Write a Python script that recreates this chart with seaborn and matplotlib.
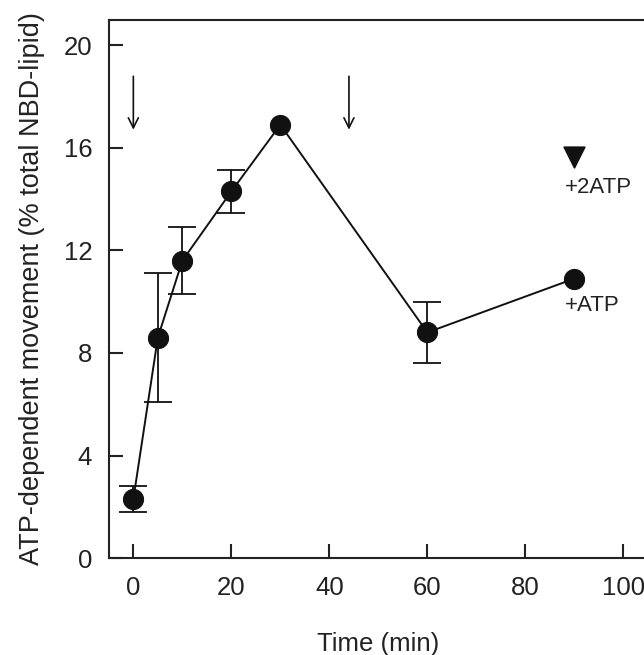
import numpy as np
import pandas as pd
import matplotlib
matplotlib.use("Agg")
import matplotlib.pyplot as plt
import seaborn as sns

# values
time_min = [0, 5, 10, 20, 30, 60, 90]
movement = [2.3, 8.6, 11.6, 14.3, 16.9, 8.8, 10.9]
err_time = [0, 5, 10, 20, 60]
err_mean = [2.3, 8.6, 11.6, 14.3, 8.8]
err_sd = [0.5, 2.5, 1.3, 0.85, 1.2]
atp2_time = [90]
atp2_value = [15.65]
arrow_times = [0, 44]

sns.set_theme(style="ticks")
plt.rcParams['font.family'] = ['Liberation Sans', 'DejaVu Sans']

fig = plt.figure(figsize=(6.44, 6.55), dpi=100)
ax = fig.add_axes([0.169, 0.148, 0.837, 0.822])

df = pd.DataFrame({"time": time_min, "movement": movement})
ax.errorbar(err_time, err_mean, yerr=err_sd, fmt="none", ecolor="#111111",
            elinewidth=1.3, capsize=10, capthick=1.3, zorder=2)
sns.lineplot(data=df, x="time", y="movement", ax=ax, color="#111111",
             linewidth=1.4, marker="o", markersize=14.5, markeredgecolor="#111111",
             markerfacecolor="#111111", zorder=3)
sns.scatterplot(x=atp2_time, y=atp2_value, ax=ax, marker="v", s=220,
                color="#111111", edgecolor="#111111", zorder=3)

for t in arrow_times:
    ax.annotate("", xy=(t, 16.6), xytext=(t, 18.9),
                arrowprops=dict(arrowstyle="->", color="#111111", lw=1.2,
                                mutation_scale=18))

ax.text(88.0, 14.46, "+2ATP", fontsize=16, color="#222222", va="center",
        ha="left")
ax.text(88.0, 9.86, "+ATP", fontsize=16, color="#222222", va="center",
        ha="left")

ax.set_xlim(-5, 105)
ax.set_ylim(0, 21)
ax.set_xticks([0, 20, 40, 60, 80, 100])
ax.set_yticks([0, 4, 8, 12, 16, 20])
ax.tick_params(direction="in", length=10, width=1.5, labelsize=18.5,
               colors="#222222")
ax.tick_params(axis="x", pad=13)
ax.tick_params(axis="y", pad=12)
ax.set_xlabel("Time (min)", fontsize=18.5, color="#222222", labelpad=23)
ax.set_ylabel("ATP-dependent movement (% total NBD-lipid)", fontsize=19.5,
              color="#222222", labelpad=13)
for side in ["left", "bottom", "top", "right"]:
    ax.spines[side].set_visible(True)
    ax.spines[side].set_linewidth(1.5)
    ax.spines[side].set_color("#222222")

fig.savefig("out.png", dpi=100)
